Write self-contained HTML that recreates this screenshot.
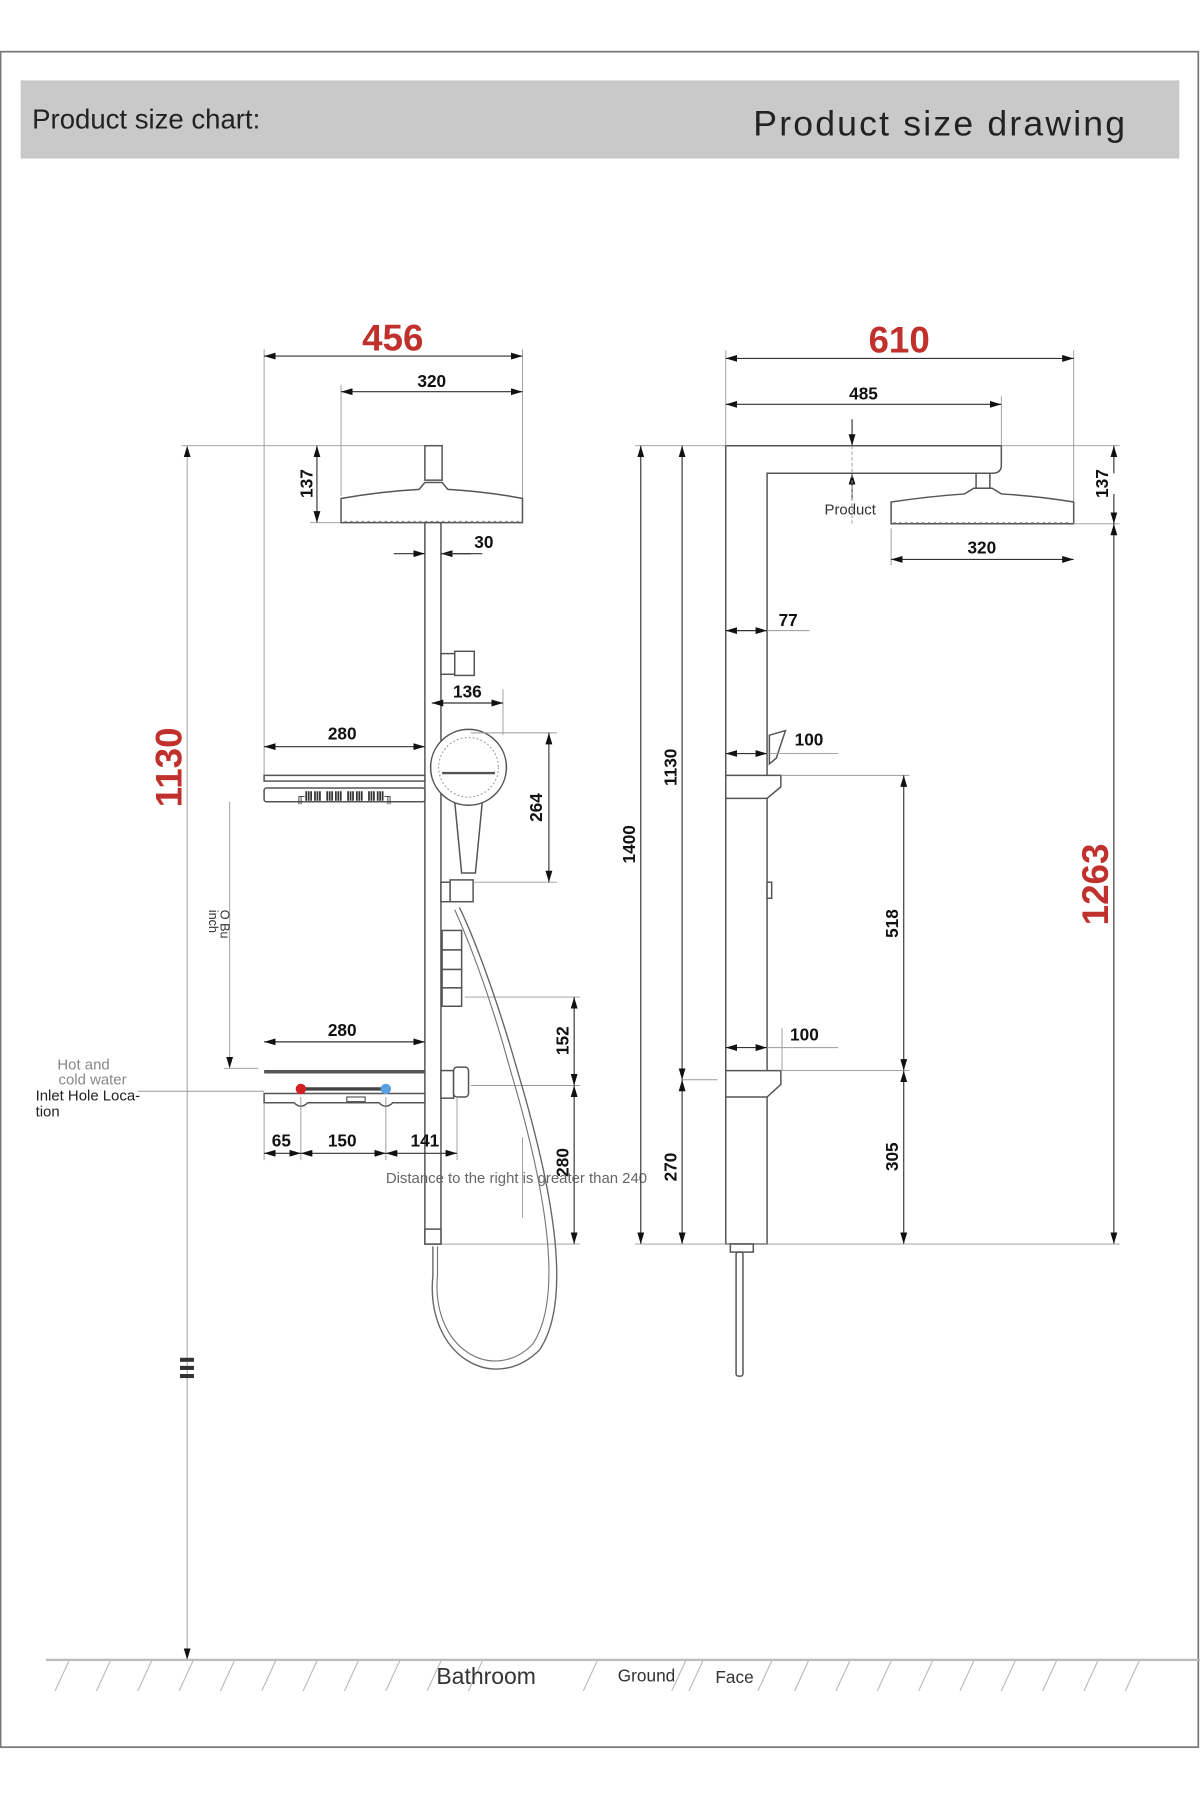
<!DOCTYPE html>
<html><head><meta charset="utf-8"><style>
html,body{margin:0;padding:0;background:#fff}
svg{display:block}
text{font-family:"Liberation Sans",sans-serif}
.d{stroke:#333;stroke-width:1;fill:none}
.e{stroke:#999;stroke-width:0.8;fill:none}
.o{stroke:#555;stroke-width:1.3;fill:#fff}
.n{font-weight:bold;font-size:15px;fill:#111}
.r{font-weight:bold;font-size:32px;fill:#c0302c}
</style></head><body>
<svg width="1200" height="1800" viewBox="0 0 1045 1567" preserveAspectRatio="none" xmlns="http://www.w3.org/2000/svg">
<defs>
<marker id="a" viewBox="0 0 10 6" refX="10" refY="3" markerWidth="10" markerHeight="6" orient="auto-start-reverse" markerUnits="userSpaceOnUse"><path d="M0,0 L10,3 L0,6z" fill="#111"/></marker>
</defs>
<rect x="0.5" y="45" width="1043" height="1476" fill="#fff" stroke="#777" stroke-width="1.5"/>
<rect x="18" y="70" width="1009" height="68" fill="#c9c9c9"/>
<text x="28" y="112" font-size="24" fill="#222">Product size chart:</text>
<text x="656" y="118" font-size="31" fill="#222" letter-spacing="1.9">Product size drawing</text>

<!-- LEFT DRAWING -->
<line class="e" x1="230" y1="304" x2="230" y2="680"/>
<line class="e" x1="455" y1="304" x2="455" y2="455"/>
<line class="e" x1="297" y1="335" x2="297" y2="432"/>
<line class="d" x1="230" y1="310" x2="455" y2="310" marker-start="url(#a)" marker-end="url(#a)"/>
<text class="r" x="342" y="305" text-anchor="middle">456</text>
<line class="d" x1="297" y1="341" x2="455" y2="341" marker-start="url(#a)" marker-end="url(#a)"/>
<text class="n" x="376" y="337" text-anchor="middle">320</text>
<!-- 1130 -->
<line class="e" x1="158" y1="388" x2="370" y2="388"/>
<line class="e" x1="163" y1="388" x2="163" y2="1445" marker-start="url(#a)" marker-end="url(#a)"/>
<text class="r" transform="translate(158,668) rotate(-90)" text-anchor="middle">1130</text>
<!-- 137 -->
<line class="d" x1="276" y1="388" x2="276" y2="455" marker-start="url(#a)" marker-end="url(#a)"/>
<line class="e" x1="270" y1="455" x2="297" y2="455"/>
<text class="n" transform="translate(272,421) rotate(-90)" text-anchor="middle">137</text>
<!-- head -->
<rect class="o" x="370" y="388" width="15" height="30"/>
<path class="o" d="M297,434 Q330,428 365,426 L370,420 L385,420 L390,426 Q425,428 455,434 L455,455 L297,455Z"/>
<line x1="300" y1="454" x2="452" y2="454" stroke="#888" stroke-dasharray="2 3"/>
<!-- pole -->
<rect class="o" x="370" y="455" width="14" height="628"/>
<line class="d" x1="343" y1="482" x2="370" y2="482" marker-end="url(#a)"/>
<line class="d" x1="410" y1="482" x2="384" y2="482" marker-end="url(#a)"/>
<line class="d" x1="384" y1="482" x2="420" y2="482"/>
<text class="n" x="413" y="477">30</text>
<rect class="o" x="384" y="569" width="12" height="18"/><rect class="o" x="396" y="567" width="17" height="21"/>
<line class="e" x1="438" y1="600" x2="438" y2="640"/>
<line class="d" x1="376" y1="612" x2="438" y2="612" marker-start="url(#a)" marker-end="url(#a)"/>
<text class="n" x="407" y="607" text-anchor="middle">136</text>
<!-- handheld -->
<path class="o" d="M396,698 L420,698 L414,760 L402,760Z"/>
<circle class="o" cx="408" cy="668" r="33"/>
<circle cx="408" cy="668" r="26" fill="none" stroke="#999" stroke-dasharray="1.5 2"/>
<line x1="385" y1="673" x2="431" y2="673" stroke="#555" stroke-width="2"/>
<rect class="o" x="384" y="768" width="8" height="17"/><rect class="o" x="392" y="766" width="20" height="19"/>
<line class="e" x1="410" y1="638" x2="485" y2="638"/>
<line class="e" x1="412" y1="768" x2="485" y2="768"/>
<line class="d" x1="478" y1="638" x2="478" y2="768" marker-start="url(#a)" marker-end="url(#a)"/>
<text class="n" transform="translate(472,703) rotate(-90)" text-anchor="middle">264</text>
<!-- top shelf -->
<line class="d" x1="230" y1="650" x2="370" y2="650" marker-start="url(#a)" marker-end="url(#a)"/>
<text class="n" x="298" y="644" text-anchor="middle">280</text>
<rect class="o" x="230" y="675" width="140" height="5"/>
<rect class="o" x="230" y="686" width="140" height="12" rx="2"/>
<text x="300" y="697" font-size="11" text-anchor="middle" fill="#333" font-weight="bold">╓ⅢⅢ ⅢⅢ ⅢⅢ ⅢⅢ╖</text>
<!-- O Bu inch -->
<line class="e" x1="200" y1="698" x2="200" y2="930" marker-end="url(#a)"/>
<line class="e" x1="195" y1="930" x2="225" y2="930"/>
<text transform="translate(192,792) rotate(90)" font-size="11" fill="#333">O Bu</text>
<text transform="translate(182,792) rotate(90)" font-size="11" fill="#333">inch</text>
<!-- diverter -->
<rect class="o" x="385" y="810" width="17" height="17"/>
<rect class="o" x="385" y="827" width="17" height="17"/>
<rect class="o" x="385" y="844" width="17" height="16"/>
<rect class="o" x="385" y="860" width="17" height="16"/>
<line class="e" x1="405" y1="868" x2="505" y2="868"/>
<line class="d" x1="500" y1="868" x2="500" y2="945" marker-start="url(#a)" marker-end="url(#a)"/>
<text class="n" transform="translate(495,906) rotate(-90)" text-anchor="middle">152</text>
<rect class="o" x="384" y="932" width="11" height="24"/><rect class="o" x="395" y="929" width="13" height="26" rx="3"/>
<line class="e" x1="410" y1="945" x2="505" y2="945"/>
<line class="d" x1="500" y1="945" x2="500" y2="1083" marker-start="url(#a)" marker-end="url(#a)"/>
<text class="n" transform="translate(495,1012) rotate(-90)" text-anchor="middle">280</text>
<line class="e" x1="384" y1="1083" x2="505" y2="1083"/>
<!-- lower shelf -->
<line class="d" x1="230" y1="907" x2="370" y2="907" marker-start="url(#a)" marker-end="url(#a)"/>
<text class="n" x="298" y="902" text-anchor="middle">280</text>
<line x1="230" y1="933" x2="370" y2="933" stroke="#555" stroke-width="3"/>
<path class="o" d="M230,952 L370,952 L370,960 L342,960 Q336,966 330,960 L268,960 Q262,966 256,960 L230,960Z"/>
<line x1="262" y1="948" x2="336" y2="948" stroke="#444" stroke-width="3"/>
<circle cx="262" cy="948" r="4.5" fill="#d02020"/>
<circle cx="336" cy="948" r="4.5" fill="#5aa0e0"/>
<rect x="302" y="955" width="16" height="4" fill="none" stroke="#555"/>
<line class="e" x1="120" y1="950" x2="230" y2="950"/>
<line class="e" x1="262" y1="955" x2="262" y2="1010"/>
<line class="e" x1="336" y1="955" x2="336" y2="1010"/>
<line class="e" x1="230" y1="960" x2="230" y2="1010"/>
<line class="e" x1="398" y1="955" x2="398" y2="1010"/>
<line class="d" x1="230" y1="1004" x2="262" y2="1004" marker-start="url(#a)" marker-end="url(#a)"/>
<line class="d" x1="262" y1="1004" x2="336" y2="1004" marker-start="url(#a)" marker-end="url(#a)"/>
<line class="d" x1="336" y1="1004" x2="398" y2="1004" marker-start="url(#a)" marker-end="url(#a)"/>
<text class="n" x="245" y="998" text-anchor="middle">65</text>
<text class="n" x="298" y="998" text-anchor="middle">150</text>
<text class="n" x="370" y="998" text-anchor="middle">141</text>
<text x="336" y="1030" font-size="13" fill="#666">Distance to the right is greater than 240</text>
<line class="e" x1="455" y1="990" x2="455" y2="1060"/>
<text x="50" y="931" font-size="13" fill="#888">Hot and</text>
<text x="51" y="944" font-size="13" fill="#888">cold water</text>
<text x="31" y="958" font-size="13" fill="#222">Inlet Hole Loca-</text>
<text x="31" y="972" font-size="13" fill="#222">tion</text>
<!-- hose -->
<rect class="o" x="370" y="1070" width="14" height="13"/>
<path d="M377,1085 L377,1110 C 370,1180 430,1215 470,1175 C 500,1130 480,1030 450,930 C 430,860 410,810 400,790" fill="none" stroke="#666" stroke-width="1.2"/>
<path d="M381,1085 L381,1110 C 375,1175 430,1205 464,1170 C 492,1128 474,1030 444,930 C 425,860 405,812 396,792" fill="none" stroke="#777" stroke-width="1"/>
<text x="166" y="1196" font-size="10" fill="#333" transform="rotate(90,170,1186)">▌▌▌</text>

<!-- RIGHT DRAWING -->
<line class="e" x1="632" y1="305" x2="632" y2="388"/>
<line class="e" x1="935" y1="305" x2="935" y2="456"/>
<line class="e" x1="872" y1="345" x2="872" y2="388"/>
<line class="d" x1="632" y1="312" x2="935" y2="312" marker-start="url(#a)" marker-end="url(#a)"/>
<text class="r" x="783" y="307" text-anchor="middle">610</text>
<line class="d" x1="632" y1="352" x2="872" y2="352" marker-start="url(#a)" marker-end="url(#a)"/>
<text class="n" x="752" y="348" text-anchor="middle">485</text>
<path class="o" d="M632,388 L872,388 L872,405 Q872,412 864,412 L668,412 L668,1083 L632,1083Z"/>
<rect class="o" x="850" y="412" width="12" height="13"/>
<path class="o" d="M776,437 Q810,432 840,430 L848,425 L864,425 L872,430 Q905,432 935,437 L935,456 L776,456Z"/>
<line x1="778" y1="455" x2="933" y2="455" stroke="#888" stroke-dasharray="2 3"/>
<line class="d" x1="742" y1="365" x2="742" y2="388" marker-end="url(#a)"/>
<line class="d" x1="742" y1="435" x2="742" y2="412" marker-end="url(#a)"/>
<line class="e" x1="742" y1="388" x2="742" y2="458" stroke-dasharray="3 2"/>
<text x="718" y="448" font-size="13" fill="#333">Product</text>
<line class="e" x1="776" y1="460" x2="776" y2="492"/>
<line class="d" x1="776" y1="487" x2="935" y2="487" marker-start="url(#a)" marker-end="url(#a)"/>
<text class="n" x="855" y="482" text-anchor="middle">320</text>
<line class="e" x1="872" y1="388" x2="975" y2="388"/>
<line class="e" x1="935" y1="456" x2="975" y2="456"/>
<line class="d" x1="970" y1="388" x2="970" y2="412" marker-start="url(#a)"/>
<line class="d" x1="970" y1="430" x2="970" y2="456" marker-end="url(#a)"/>
<text class="n" transform="translate(965,421) rotate(-90)" text-anchor="middle">137</text>
<line class="d" x1="970" y1="456" x2="970" y2="1083" marker-start="url(#a)" marker-end="url(#a)"/>
<text class="r" transform="translate(965,770) rotate(-90)" text-anchor="middle">1263</text>
<line class="d" x1="632" y1="549" x2="668" y2="549" marker-start="url(#a)" marker-end="url(#a)"/>
<line class="e" x1="668" y1="549" x2="705" y2="549"/>
<text class="n" x="678" y="545">77</text>
<!-- upper shelf -->
<path class="o" d="M670,640 L684,636 L676,660 L670,665Z"/>
<line class="d" x1="632" y1="656" x2="668" y2="656" marker-start="url(#a)" marker-end="url(#a)"/>
<line class="e" x1="668" y1="656" x2="730" y2="656"/>
<text class="n" x="692" y="649">100</text>
<path class="o" d="M632,675 L680,675 L680,685 L668,695 L632,695Z"/>
<line class="e" x1="680" y1="675" x2="792" y2="675"/>
<rect class="o" x="668" y="768" width="4" height="14"/>
<line class="d" x1="787" y1="675" x2="787" y2="932" marker-start="url(#a)" marker-end="url(#a)"/>
<text class="n" transform="translate(782,804) rotate(-90)" text-anchor="middle">518</text>
<!-- lower shelf -->
<line class="d" x1="632" y1="912" x2="668" y2="912" marker-start="url(#a)" marker-end="url(#a)"/>
<line class="e" x1="668" y1="912" x2="730" y2="912"/>
<line class="e" x1="681" y1="895" x2="681" y2="932"/>
<text class="n" x="688" y="906">100</text>
<path class="o" d="M632,932 L680,932 L680,944 L668,955 L632,955Z"/>
<line class="e" x1="680" y1="932" x2="792" y2="932"/>
<line class="d" x1="787" y1="932" x2="787" y2="1083" marker-start="url(#a)" marker-end="url(#a)"/>
<text class="n" transform="translate(782,1007) rotate(-90)" text-anchor="middle">305</text>
<!-- left dims -->
<line class="e" x1="553" y1="388" x2="632" y2="388"/>
<line class="d" x1="558" y1="388" x2="558" y2="1083" marker-start="url(#a)" marker-end="url(#a)"/>
<text class="n" transform="translate(553,735) rotate(-90)" text-anchor="middle">1400</text>
<line class="d" x1="594" y1="388" x2="594" y2="940" marker-start="url(#a)" marker-end="url(#a)"/>
<text class="n" transform="translate(589,668) rotate(-90)" text-anchor="middle">1130</text>
<line class="e" x1="594" y1="940" x2="625" y2="940"/>
<line class="d" x1="594" y1="940" x2="594" y2="1083" marker-start="url(#a)" marker-end="url(#a)"/>
<text class="n" transform="translate(589,1016) rotate(-90)" text-anchor="middle">270</text>
<line class="e" x1="553" y1="1083" x2="975" y2="1083"/>
<rect class="o" x="636" y="1083" width="20" height="7"/>
<rect class="o" x="641" y="1090" width="6" height="108" rx="2"/>

<!-- GROUND -->
<line x1="40" y1="1445" x2="1045" y2="1445" stroke="#bbb" stroke-width="2"/>
<g stroke="#bbb" stroke-width="1">
<path d="M48,1472l12,-26M84,1472l12,-26M120,1472l12,-26M156,1472l12,-26M192,1472l12,-26M228,1472l12,-26M264,1472l12,-26M300,1472l12,-26M336,1472l12,-26M372,1472l12,-26M408,1472l12,-26M508,1472l12,-26M585,1472l12,-26M692,1472l12,-26M728,1472l12,-26M764,1472l12,-26M800,1472l12,-26M836,1472l12,-26M872,1472l12,-26M908,1472l12,-26M944,1472l12,-26M980,1472l12,-26M600,1472l12,-26M660,1472l12,-26"/>
</g>
<text x="380" y="1466" font-size="20" fill="#333">Bathroom</text>
<text x="538" y="1464" font-size="15" fill="#333">Ground</text>
<text x="623" y="1465" font-size="15" fill="#333">Face</text>
</svg>
</body></html>
